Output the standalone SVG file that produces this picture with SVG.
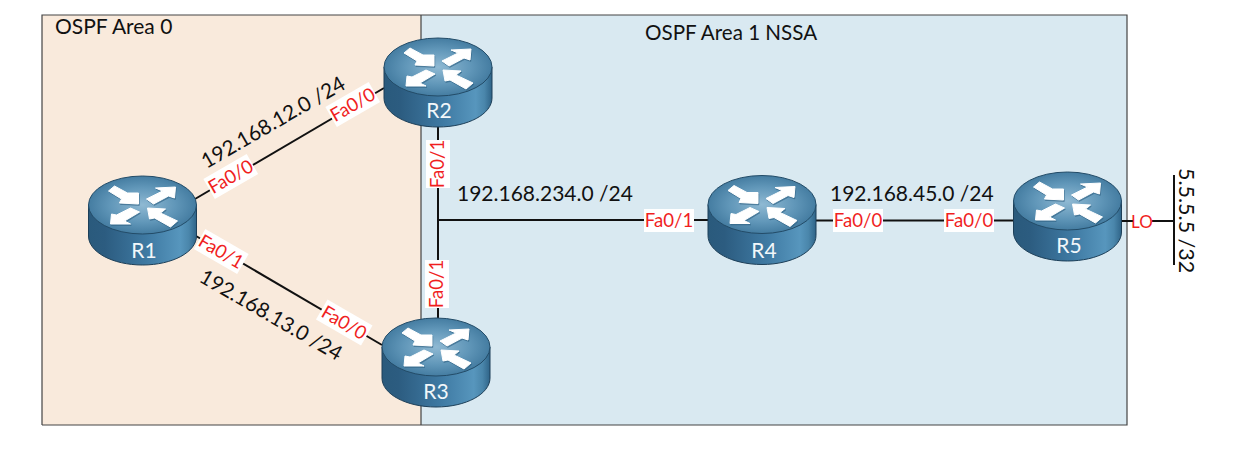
<svg xmlns="http://www.w3.org/2000/svg" xmlns:xlink="http://www.w3.org/1999/xlink" width="1233" height="449" viewBox="0 0 1233 449">
<style>
text{font-family:"Lato","Open Sans","Liberation Sans",sans-serif}
.net{font-size:21px;fill:#111}
.netr{font-size:20.800px;fill:#111}
.area{font-size:20.600px;fill:#111}
.if{font-size:18.600px;fill:#f01f1f;text-anchor:middle}
.ifbg{fill:#fff}
.rn{font-size:21px;fill:#f2f7fa;text-anchor:middle}
.link{stroke:#111;stroke-width:2;fill:none}
</style>
<defs>
<linearGradient id="side" x1="0" x2="1" y1="0" y2="0">
<stop offset="0" stop-color="#2a5a7c"/><stop offset=".15" stop-color="#2c5c80"/><stop offset=".55" stop-color="#3f7aa3"/><stop offset=".85" stop-color="#5796bd"/><stop offset=".93" stop-color="#4a86ab"/><stop offset="1" stop-color="#2f6488"/>
</linearGradient>
<radialGradient id="top" cx=".5" cy=".5" r=".6">
<stop offset="0" stop-color="#8fb9d3"/><stop offset=".5" stop-color="#6197b9"/><stop offset="1" stop-color="#366f95"/>
</radialGradient>
<path id="arrows" d="M-34-14-28-19-15-12-4-12-4-1-23-2-21-6ZM33-18 32-7 26-9 11-1 4-6 20-14 13-17ZM-32 19-31 9-26 10-12 3-3 7-18 16-12 19ZM5 3 23 4 18 8 35 16 28 22 12 13 7 14Z"/>
<g id="router">
<path d="M-54 0V31C-54 47-30 60 0 60S54 47 54 31V0Z" fill="url(#side)" stroke="#1d3f58" stroke-width="1"/>
<ellipse cx="0" cy="0" rx="54" ry="29" fill="url(#top)" stroke="#234c68" stroke-width="1"/>
<use xlink:href="#arrows" href="#arrows" x="0.800" y="1.400" fill="#2f5f80" fill-opacity=".45" stroke="#2f5f80" stroke-opacity=".45" stroke-width="1"/>
<use xlink:href="#arrows" href="#arrows" fill="#fff" stroke="#fff" stroke-width="1" stroke-linejoin="round"/>
</g>
</defs>
<rect width="1233" height="449" fill="#fff"/>
<g id="areas">
<rect x="42" y="15" width="379" height="410" fill="#f9eadc"/>
<rect x="421" y="15" width="706" height="410" fill="#d9e9f1"/>
<path d="M42 425V15H1127V425H42M421 15V425" fill="none" stroke="#444" stroke-width="1.2"/>
<text class="area" x="55" y="34" style="font-size:21px">OSPF Area 0</text>
<text class="area" x="645" y="40">OSPF Area 1 NSSA</text>
</g>
<g id="connectors">
<path class="link" d="M195 199 384 88"/>
<path class="link" d="M196 236 382 345"/>
<path class="link" d="M438 127V318"/>
<path class="link" d="M438 220H708"/>
<path class="link" d="M816 220.500H1014"/>
<path class="link" d="M1121 221H1174"/>
<path class="link" d="M1174 175V265"/>
</g>
<g id="R1"><use xlink:href="#router" href="#router" x="142.500" y="205"/><text class="rn" x="144" y="258">R1</text></g>
<g id="R2"><use xlink:href="#router" href="#router" x="438" y="67"/><text class="rn" x="439" y="118">R2</text></g>
<g id="R3"><use xlink:href="#router" href="#router" x="436" y="347"/><text class="rn" x="436" y="399">R3</text></g>
<g id="R4"><use xlink:href="#router" href="#router" x="762" y="204.500"/><text class="rn" x="764" y="258">R4</text></g>
<g id="R5"><use xlink:href="#router" href="#router" x="1067.500" y="201"/><text class="rn" x="1069" y="253">R5</text></g>
<g id="labels">
<text class="netr" transform="translate(206.500 169) rotate(-30)">192.168.12.0 /24</text>
<text class="netr" transform="translate(198 281) rotate(30)" style="font-size:20.600px">192.168.13.0 /24</text>
<text class="net" x="457" y="201">192.168.234.0 /24</text>
<text class="net" x="830" y="201">192.168.45.0 /24</text>
<text class="net" transform="translate(1179 168) rotate(90)" style="font-size:21.500px">5.5.5.5 /32</text>
<g transform="translate(231 177) rotate(-30)"><rect class="ifbg" x="-25" y="-12" width="50" height="23"/><text class="if" y="6">Fa0/0</text></g>
<g transform="translate(353 105) rotate(-30)"><rect class="ifbg" x="-25" y="-12" width="50" height="23"/><text class="if" y="6">Fa0/0</text></g>
<g transform="translate(221 252) rotate(30)"><rect class="ifbg" x="-25" y="-12" width="50" height="23"/><text class="if" y="6">Fa0/1</text></g>
<g transform="translate(344 323) rotate(30)"><rect class="ifbg" x="-26" y="-12" width="52" height="23"/><text class="if" y="6">Fa0/0</text></g>
<g transform="translate(438 164) rotate(-90)"><rect class="ifbg" x="-24" y="-12" width="48" height="24"/><text class="if" y="6">Fa0/1</text></g>
<g transform="translate(437 284) rotate(-90)"><rect class="ifbg" x="-24" y="-12" width="48" height="24"/><text class="if" y="6">Fa0/1</text></g>
<rect class="ifbg" x="644" y="209" width="50" height="23"/><text class="if" x="669" y="227">Fa0/1</text>
<rect class="ifbg" x="833" y="209" width="50" height="23"/><text class="if" x="858" y="227">Fa0/0</text>
<rect class="ifbg" x="944" y="209" width="50" height="23"/><text class="if" x="969" y="227">Fa0/0</text>
<rect class="ifbg" x="1133" y="210" width="19" height="22"/><text class="if" x="1142" y="228" style="font-size:17px">LO</text>
</g>
</svg>
